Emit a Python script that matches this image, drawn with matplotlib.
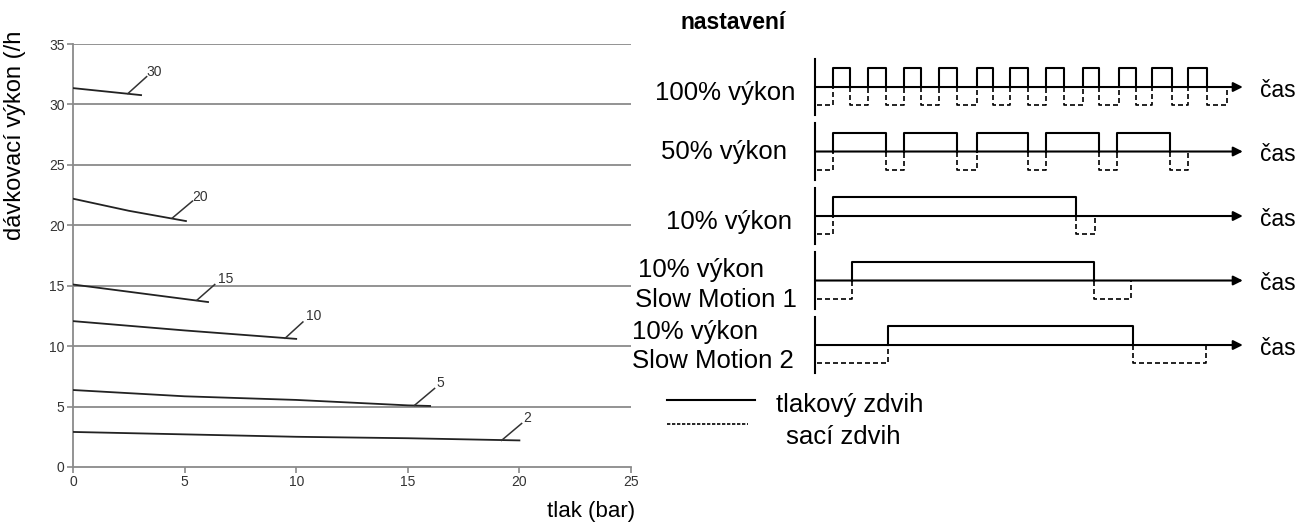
import numpy as np
import matplotlib.pyplot as plt

plt.rcParams['font.family'] = ['Liberation Sans', 'DejaVu Sans']

# --- levá část: dávkovací výkon vs. tlak ---
x_ticks = [0, 5, 10, 15, 20, 25]
y_ticks = [0, 5, 10, 15, 20, 25, 30, 35]

curve_names = ['30', '20', '15', '10', '5', '2']
curve_x = [[0, 3.05],
           [0, 2.5, 5.06],
           [0, 6.05],
           [0, 5, 10],
           [0, 5, 10, 15, 16],
           [0, 5, 10, 15, 20]]
curve_y = [[31.35, 30.77],
           [22.2, 21.2, 20.35],
           [15.1, 13.65],
           [12.07, 11.3, 10.6],
           [6.37, 5.85, 5.55, 5.1, 5.05],
           [2.9, 2.7, 2.5, 2.38, 2.2]]
# odkazové čáry popisků: (x0, y0, x1, y1) a pozice textu
leader = [(2.46, 30.9, 3.3, 32.3), (4.45, 20.6, 5.35, 22.0), (5.55, 13.8, 6.35, 15.1),
          (9.5, 10.65, 10.3, 12.0), (15.3, 5.1, 16.2, 6.5), (19.2, 2.2, 20.1, 3.6)]
label_pos = [(3.3, 32.7), (5.35, 22.3), (6.5, 15.55), (10.44, 12.5), (16.3, 6.95), (20.16, 4.05)]

# --- pravá část: časové diagramy ---
row_names = ['100% výkon', '50% výkon', '10% výkon', ['10% výkon', 'Slow Motion 1'],
             ['10% výkon', 'Slow Motion 2']]
rises = [[0.5, 1.5, 2.5, 3.5, 4.55, 5.5, 6.5, 7.55, 8.55, 9.5, 10.5],
         [0.5, 2.5, 4.55, 6.5, 8.5],
         [0.5],
         [1.05],
         [2.05]]
falls = [[1.0, 2.0, 3.0, 4.0, 5.0, 6.0, 7.0, 8.0, 9.05, 10.05, 11.05],
         [2.0, 4.0, 6.0, 8.0, 10.0],
         [7.35],
         [7.85],
         [8.95]]
suction_end = [11.6, 10.5, 7.9, 8.9, 11.0]
t_end = 12.05

fig = plt.figure(figsize=(13.11, 5.28), dpi=100)

ax = fig.add_axes([73/1311, 1-467/528, (631-73)/1311, (467-44)/528])
ax.set_xlim(0, 25)
ax.set_ylim(0, 35)
for y in y_ticks[1:]:
    ax.axhline(y, color='#8a8a8a', lw=1.3, zorder=1)
for i, name in enumerate(curve_names):
    ax.plot(curve_x[i], curve_y[i], color='#222222', lw=1.3, zorder=3)
    x0, y0, x1, y1 = leader[i]
    ax.plot([x0, x1], [y0, y1], color='#333333', lw=1.1, zorder=3)
    ax.text(label_pos[i][0], label_pos[i][1], name, fontsize=10, color='#333333',
            ha='left', va='center')
ax.set_xticks(x_ticks)
ax.set_yticks(y_ticks)
ax.tick_params(colors='#8a8a8a', labelcolor='#333333', labelsize=10, length=4, width=1.2, pad=2)
for s in ['top', 'right']:
    ax.spines[s].set_visible(False)
for s in ['left', 'bottom']:
    ax.spines[s].set_color('#8a8a8a')
    ax.spines[s].set_linewidth(1.3)

fig.text(15/1311, 1-135/528, 'dávkovací výkon (/h', rotation=90, fontsize=17,
         ha='center', va='center')
fig.text(591/1311, 1-512/528, 'tlak (bar)', fontsize=16, ha='center', va='center')

# pravá část v jednotkách času
ax2 = fig.add_axes([603/1311, 0, (1311-603)/1311, 1])
ax2.set_xlim(-5.97, 13.97)
ax2.set_ylim(-6.837, 1.349)
ax2.axis('off')

hi, lo, ax_top, ax_bot = 0.29, -0.28, 0.44, -0.44
dash = (0, (3, 1.8))
for i in range(5):
    b = -i
    ax2.plot([0, 0], [b + ax_top, b + ax_bot], color='black', lw=1.5)
    ax2.annotate('', xy=(t_end, b), xytext=(0, b),
                 arrowprops=dict(arrowstyle='-|>', color='black', lw=1.5,
                                 mutation_scale=14, shrinkA=0, shrinkB=0))
    # tlakový zdvih (plná čára)
    for r, f in zip(rises[i], falls[i]):
        ax2.plot([r, r, f, f], [b, b + hi, b + hi, b], color='black', lw=1.5)
    # sací zdvih (čárkovaná)
    starts = [0.05] + falls[i]
    ends = rises[i] + [suction_end[i]]
    for k, (s, e) in enumerate(zip(starts, ends)):
        xs = [s, e, e] if k == 0 else [s, s, e, e]
        ys = [b + lo, b + lo, b] if k == 0 else [b, b + lo, b + lo, b]
        ax2.plot(xs, ys, color='black', lw=1.2, linestyle=dash)
    ax2.text(12.54, b - 0.05, 'čas', fontsize=16.5, ha='left', va='center')

ax2.text(-0.56, -0.09, row_names[0], fontsize=18.5, ha='right', va='center')
ax2.text(-0.79, -1.0, row_names[1], fontsize=18.5, ha='right', va='center')
ax2.text(-0.65, -2.1, row_names[2], fontsize=18.5, ha='right', va='center')
ax2.text(-4.99, -3 + 0.17, row_names[3][0], fontsize=18.5, ha='left', va='center')
ax2.text(-5.07, -3 - 0.3, row_names[3][1], fontsize=18.5, ha='left', va='center')
ax2.text(-5.15, -4 + 0.2, row_names[4][0], fontsize=18.5, ha='left', va='center')
ax2.text(-5.15, -4 - 0.25, row_names[4][1], fontsize=18.5, ha='left', va='center')

ax2.text(-2.31, 1.0, 'nastavení', fontsize=16.5, fontweight='bold', ha='center', va='center')

# legenda
ax2.plot([-4.17, -1.69], [-4.853, -4.853], color='black', lw=1.5)
ax2.plot([-4.17, -1.89], [-5.225, -5.225], color='black', lw=1.2, linestyle=(0, (2, 1)))
ax2.text(-1.10, -4.93, 'tlakový zdvih', fontsize=18.5, ha='left', va='center')
ax2.text(-0.82, -5.43, 'sací zdvih', fontsize=18.5, ha='left', va='center')

plt.savefig('out.png', dpi=100)
